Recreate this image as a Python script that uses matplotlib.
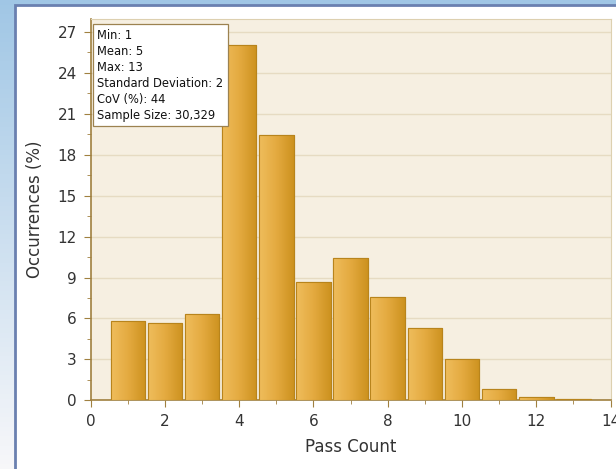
import numpy as np
import matplotlib
matplotlib.use("Agg")
import matplotlib.pyplot as plt
from matplotlib.patches import Rectangle
from matplotlib.ticker import MultipleLocator

# data
pass_count = [1, 2, 3, 4, 5, 6, 7, 8, 9, 10, 11, 12, 13]
occurrences = [5.8, 5.65, 6.33, 26.05, 19.44, 8.7, 10.4, 7.55, 5.3, 3.0, 0.85, 0.24, 0.07]
stats_lines = ["Min: 1", "Mean: 5", "Max: 13", "Standard Deviation: 2",
               "CoV (%): 44", "Sample Size: 30,329"]

W, H = 616, 469
fig = plt.figure(figsize=(W / 100, H / 100), dpi=100)

# blue backdrop with white panel
bg = fig.add_axes([0, 0, 1, 1])
bg.set_xlim(0, W)
bg.set_ylim(H, 0)
bg.axis("off")
grad = np.linspace(0, 1, 100).reshape(-1, 1)
top = np.array([0.63, 0.78, 0.90])
bot = np.array([0.97, 0.97, 0.98])
img = top[None, None, :] * (1 - grad[:, :, None]) + bot[None, None, :] * grad[:, :, None]
bg.imshow(img, extent=[0, W, H, 0], aspect="auto")
bg.add_patch(Rectangle((15, 5), W, H, facecolor="white", edgecolor="#6a80b0", lw=2))

ax = fig.add_axes([90.7 / W, 1 - 400.3 / H, (610.5 - 90.7) / W, (400.3 - 19) / H])
ax.set_facecolor("#f6efe1")

bar_w = 0.93
bars = ax.bar(pass_count, occurrences, width=bar_w, color="#dca238",
              edgecolor="#b8841c", linewidth=0.8, zorder=3)

# horizontal gradient inside each bar
cmap = matplotlib.colors.LinearSegmentedColormap.from_list(
    "gold", ["#efbd5c", "#e4aa40", "#cd921f"])
g = np.linspace(0, 1, 64).reshape(1, -1)
for b in bars:
    x0, w, h = b.get_x(), b.get_width(), b.get_height()
    im = ax.imshow(g, cmap=cmap, extent=[x0, x0 + w, 0, h], aspect="auto", zorder=3.5)
    im.set_clip_path(b)
    ax.add_patch(Rectangle((x0, 0), w, h, fill=False, edgecolor="#b8841c", lw=0.8, zorder=4))
ax.set_xlim(0, 14)
ax.set_ylim(0, 27.95)

ax.yaxis.set_major_locator(MultipleLocator(3))
ax.yaxis.set_minor_locator(MultipleLocator(1.5))
ax.xaxis.set_major_locator(MultipleLocator(2))
ax.xaxis.set_minor_locator(MultipleLocator(1))
ax.grid(axis="y", which="major", color="#e6dbc2", lw=1, zorder=1)
ax.set_axisbelow(True)

for s in ["left", "bottom"]:
    ax.spines[s].set_color("#a08040")
    ax.spines[s].set_linewidth(1.2)
for s in ["top", "right"]:
    ax.spines[s].set_color("#ddd0b0")
ax.tick_params(which="major", direction="out", length=5, color="#a08040",
               labelsize=11, labelcolor="#333333", pad=5)
ax.tick_params(which="minor", direction="out", length=3, color="#a08040")

ax.set_xlabel("Pass Count", fontsize=12, color="#333333", labelpad=6)
ax.set_ylabel("Occurrences (%)", fontsize=12, color="#333333", labelpad=10)

ax.text(0.013, 0.975, "\n".join(stats_lines), transform=ax.transAxes, va="top", ha="left",
        fontsize=8.3, color="#111111", linespacing=1.3, zorder=10,
        bbox=dict(boxstyle="square,pad=0.4", facecolor="white", edgecolor="#9c8250", lw=0.9))

fig.savefig("out.png", dpi=100)
